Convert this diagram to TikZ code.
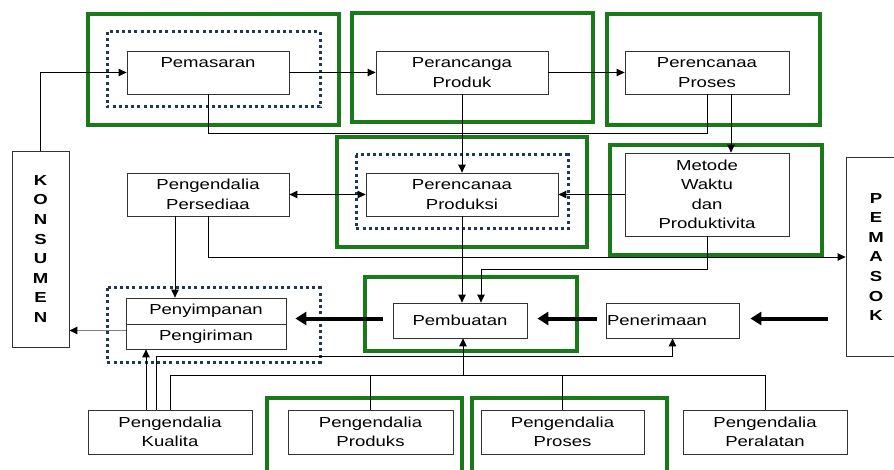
\documentclass[tikz,border=0pt]{standalone}
\usepackage{fontspec}
\setmainfont{Liberation Sans}[FakeStretch=1.28]
\usetikzlibrary{arrows.meta}
\definecolor{bingkai}{RGB}{24,122,24}
\definecolor{titik}{RGB}{32,56,86}
\tikzset{
  kotak/.style={draw=black!80, line width=0.8pt, fill=white, inner sep=0pt, align=center,
    font=\fontsize{14.5}{19.5}\selectfont},
  huruf/.style={kotak, font=\fontsize{14.5}{19.6}\selectfont\bfseries},
  hijau/.style={draw=bingkai, line width=4pt},
  bertitik/.style={draw=titik, line width=3pt, dash pattern=on 3pt off 3.2pt},
  tipis/.style={-{Triangle[length=8pt,width=7.5pt]}, line width=0.9pt},
  duaarah/.style={{Triangle[length=8pt,width=7.5pt]}-{Triangle[length=8pt,width=7.5pt]}, line width=0.9pt},
  tebal/.style={-{Triangle[length=11pt,width=13pt]}, line width=4pt},
}
\begin{document}
\begin{tikzpicture}[x=1pt,y=-1pt]
  \useasboundingbox (0,0) rectangle (894,470);
  \clip (0,0) rectangle (894,470);

  \draw[hijau] (88,14) rectangle (339,125);
  \draw[hijau] (352,13) rectangle (593,122);
  \draw[hijau] (607,14) rectangle (820,125);
  \draw[hijau] (337,137) rectangle (587,247);
  \draw[hijau] (610,145) rectangle (822,255);
  \draw[hijau] (365,277) rectangle (577,351);
  \draw[hijau] (267,398) rectangle (462,480);
  \draw[hijau] (472,398) rectangle (667,480);
  \draw[bertitik] (107,32) rectangle (320,107);
  \draw[bertitik] (356,155) rectangle (568,229);
  \draw[bertitik] (107,288) rectangle (320,362);

  \node[kotak, minimum width=162, minimum height=43] (pemasaran) at (208,72.5) {Pemasaran\\\mbox{}};
  \node[kotak, minimum width=172, minimum height=43] (perancang) at (462,72.5) {Perancanga\\Produk};
  \node[kotak, minimum width=164, minimum height=43] (prosesren) at (707,72.5) {Perencanaa\\Proses};
  \node[kotak, minimum width=162, minimum height=43] (persediaan) at (208,194.5) {Pengendalia\\Persediaa};
  \node[kotak, minimum width=192, minimum height=43] (produksi) at (462,194.5) {Perencanaa\\Produksi};
  \node[kotak, minimum width=164, minimum height=83] (metode) at (707,194.5) {Metode\\Waktu\\dan\\Produktivita};
  \node[huruf, minimum width=57, minimum height=196] (kons) at (40.5,249) {K\\O\\N\\S\\U\\M\\E\\N};
  \node[huruf, minimum width=60, minimum height=199] (pemasok) at (876,257) {P\\E\\M\\A\\S\\O\\K};
  \node[kotak, minimum width=160, minimum height=26] (penyimpanan) at (206,311) {Penyimpanan};
  \node[kotak, minimum width=160, minimum height=25] (pengiriman) at (206,336.5) {Pengiriman};
  \node[kotak, minimum width=134, minimum height=35] (pembuatan) at (460,320.5) {Pembuatan};
  \node[kotak, text width=131, inner xsep=1pt, align=left, minimum height=35] (penerimaan) at (672.5,320.5) {Penerimaan};
  \node[kotak, minimum width=164, minimum height=44] (kualita) at (170,432) {Pengendalia\\Kualita};
  \node[kotak, minimum width=165, minimum height=44] (produks) at (370.5,432) {Pengendalia\\Produks};
  \node[kotak, minimum width=163, minimum height=44] (proseskend) at (562.5,432) {Pengendalia\\Proses};
  \node[kotak, minimum width=164, minimum height=44] (peralatan) at (765,432) {Pengendalia\\Peralatan};
  \coordinate (jalur) at (0,375);

  \draw[tipis] (kons.north) |- (pemasaran.west);
  \draw[tipis] (pemasaran) -- (perancang);
  \draw[tipis] (perancang) -- (prosesren);
  \draw (pemasaran.south) -- ++(0,39) -| (prosesren.south);
  \draw[tipis] (perancang.south) -- (produksi.north);
  \draw[tipis] ([xshift=24pt]prosesren.south) -- ([xshift=24pt]prosesren.south |- metode.north);
  \draw[duaarah] (persediaan) -- (produksi);
  \draw[tipis] (metode) -- (produksi);
  \draw[tipis] (persediaan.south) |- (pemasok.west);
  \draw[tipis] ([xshift=-33pt]persediaan.south) -- ([xshift=-33pt]persediaan.south |- penyimpanan.north);
  \draw[tipis] (produksi.south) -- (produksi.south |- pembuatan.north);
  \draw[tipis] (metode.south) -- ++(0,33) -| ([xshift=21pt]pembuatan.north);
  \draw[tebal] ([xshift=-10pt,yshift=2pt]pembuatan.west) -- ([xshift=9pt,yshift=2pt]pembuatan.west -| penyimpanan.east);
  \draw[tebal] ([xshift=-9pt,yshift=2pt]penerimaan.west) -- ([xshift=10pt,yshift=2pt]penerimaan.west -| pembuatan.east);
  \draw[tebal] ([xshift=-18pt,yshift=2pt]penerimaan.west -| pemasok.west) -- ([xshift=11pt,yshift=2pt]penerimaan.east);
  \draw[-{Triangle[length=8pt,width=7.5pt,color=black]}, line width=0.9pt, draw=black!50] ([yshift=6pt]pengiriman.west) -- ([yshift=6pt]pengiriman.west -| kons.east);
  \draw[tipis] ([xshift=-24pt]kualita.north) -- ([xshift=-24pt]kualita.north |- pengiriman.south);
  \draw[tipis] ([xshift=-14pt]kualita.north) -- ++(0,-53) -| (penerimaan.south);
  \draw (kualita.north) |- (jalur -| peralatan.north) -- (peralatan.north);
  \draw (produks.north) -- (produks.north |- jalur);
  \draw (proseskend.north) -- (proseskend.north |- jalur);
  \draw[tipis] ([xshift=3pt]pembuatan.south |- jalur) -- ([xshift=3pt]pembuatan.south);
\end{tikzpicture}
\end{document}
